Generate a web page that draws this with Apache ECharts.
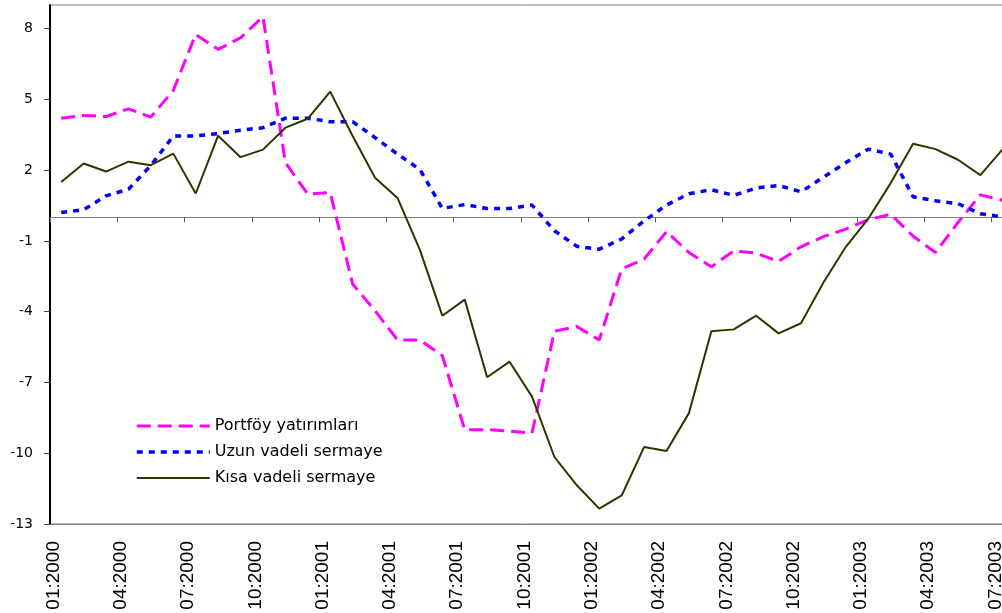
<!DOCTYPE html>
<html>
<head>
<meta charset="utf-8">
<script src="https://cdn.jsdelivr.net/npm/echarts@6.0.0/dist/echarts.min.js"></script>
<style>
  html, body { margin: 0; padding: 0; background: #ffffff; }
  #chart { width: 1002px; height: 613px; }
</style>
</head>
<body>
<div id="chart"></div>
<script>
// Monthly periods, 01:2000 – 07:2003
const months = [
  '01:2000','02:2000','03:2000','04:2000','05:2000','06:2000','07:2000','08:2000','09:2000','10:2000','11:2000','12:2000',
  '01:2001','02:2001','03:2001','04:2001','05:2001','06:2001','07:2001','08:2001','09:2001','10:2001','11:2001','12:2001',
  '01:2002','02:2002','03:2002','04:2002','05:2002','06:2002','07:2002','08:2002','09:2002','10:2002','11:2002','12:2002',
  '01:2003','02:2003','03:2003','04:2003','05:2003','06:2003','07:2003'
];

// Portföy yatırımları
const portfoy = [
  4.20, 4.32, 4.27, 4.60, 4.25, 5.38, 7.75, 7.12, 7.61, 8.50, 2.32, 0.98,
  1.05, -2.83, -3.96, -5.20, -5.20, -5.86, -9.01, -9.00, -9.06, -9.15, -4.83, -4.63,
  -5.20, -2.19, -1.77, -0.61, -1.49, -2.10, -1.42, -1.52, -1.87, -1.25, -0.82, -0.50,
  -0.10, 0.13, -0.80, -1.49, -0.22, 0.95, 0.72
];

// Uzun vadeli sermaye
const uzunVadeli = [
  0.20, 0.32, 0.91, 1.19, 2.20, 3.45, 3.45, 3.55, 3.69, 3.80, 4.20, 4.20,
  4.05, 4.05, 3.38, 2.68, 2.03, 0.38, 0.54, 0.37, 0.37, 0.52, -0.57, -1.23,
  -1.35, -0.92, -0.15, 0.52, 1.00, 1.17, 0.93, 1.24, 1.35, 1.08, 1.70, 2.32,
  2.89, 2.68, 0.87, 0.70, 0.58, 0.15, 0.02
];

// Kısa vadeli sermaye
const kisaVadeli = [
  1.50, 2.28, 1.94, 2.36, 2.21, 2.70, 1.01, 3.46, 2.55, 2.87, 3.80, 4.18,
  5.33, 3.45, 1.68, 0.82, -1.38, -4.17, -3.49, -6.78, -6.12, -7.60, -10.16, -11.36,
  -12.35, -11.79, -9.74, -9.91, -8.30, -4.83, -4.75, -4.17, -4.92, -4.49, -2.76, -1.25,
  -0.06, 1.45, 3.12, 2.89, 2.44, 1.79, 2.89
];

// Value axis tick labels
const yTicks = [-13, -10, -7, -4, -1, 2, 5, 8];

const chart = echarts.init(document.getElementById('chart'), null, { renderer: 'canvas' });

chart.setOption({
  animation: false,
  backgroundColor: '#ffffff',
  grid: {
    left: 50, top: 5, width: 964, height: 519,
    outerBoundsMode: 'none',
    containLabel: false,
    show: true, borderColor: '#808080', borderWidth: 1, backgroundColor: 'transparent'
  },
  legend: {
    orient: 'vertical',
    left: 130, top: 411,
    itemWidth: 73, itemHeight: 14, itemGap: 6,
    itemStyle: { opacity: 0 },
    lineStyle: { width: 'inherit' },
    textStyle: { fontFamily: 'DejaVu Sans', fontSize: 16, color: '#000000', lineHeight: 20 },
    data: ['Portföy yatırımları', 'Uzun vadeli sermaye', 'Kısa vadeli sermaye']
  },
  xAxis: [
    {
      type: 'category',
      data: months,
      boundaryGap: true,
      position: 'bottom',
      axisLine: { onZero: false, lineStyle: { color: '#808080', width: 1 } },
      axisTick: { show: false },
      axisLabel: {
        interval: 2, rotate: 90, margin: 17,
        verticalAlign: 'bottom', lineHeight: 15,
        fontFamily: 'Liberation Sans', fontSize: 19, color: '#000000'
      },
      splitLine: { show: false }
    },
    {
      type: 'category',
      data: months,
      boundaryGap: true,
      position: 'top',
      axisLine: { onZero: true, lineStyle: { color: '#808080', width: 1 } },
      axisTick: { show: true, inside: true, interval: 2, length: 5, lineStyle: { color: '#606060', width: 1 } },
      axisLabel: { show: false },
      splitLine: { show: false }
    }
  ],
  yAxis: {
    type: 'value',
    min: -13, max: 9,
    axisLine: { show: true, lineStyle: { color: '#000000', width: 2 } },
    axisTick: { show: true, length: 6, customValues: yTicks, lineStyle: { color: '#404040', width: 1 } },
    axisLabel: {
      customValues: yTicks, margin: 17, padding: [0, 0, 7, 0],
      fontFamily: 'DejaVu Sans', fontSize: 14, color: '#000000'
    },
    splitLine: { show: false }
  },
  series: [
    {
      name: 'Portföy yatırımları',
      type: 'line',
      data: portfoy,
      symbol: 'none',
      itemStyle: { color: '#FF00FF' },
      lineStyle: { color: '#FF00FF', width: 3, type: [14, 7] },
      z: 2
    },
    {
      name: 'Uzun vadeli sermaye',
      type: 'line',
      data: uzunVadeli,
      symbol: 'none',
      itemStyle: { color: '#0000FF' },
      lineStyle: { color: '#0000FF', width: 3.5, type: [6, 6] },
      z: 3
    },
    {
      name: 'Kısa vadeli sermaye',
      type: 'line',
      data: kisaVadeli,
      symbol: 'none',
      itemStyle: { color: '#333300' },
      lineStyle: { color: '#333300', width: 2 },
      z: 4
    }
  ]
});
</script>
</body>
</html>
